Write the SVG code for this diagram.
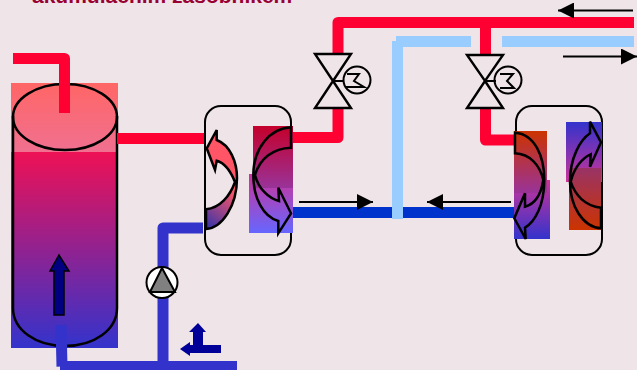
<svg xmlns="http://www.w3.org/2000/svg" width="637" height="370" viewBox="0 0 637 370">
<defs>
<style>
.o{fill:none;stroke:#000;stroke-width:2}
.c{fill:none;stroke:#000;stroke-width:2.5}
.h{fill:none;stroke:#ff0033;stroke-width:11;stroke-linejoin:round}
.p{fill:none;stroke:#3333cc;stroke-width:11}
.a{stroke:#000;stroke-width:2;fill:none}
.v{fill:none;stroke:#000;stroke-width:2.4;stroke-linejoin:miter}
text{font-family:"Liberation Sans",Arial,sans-serif;font-weight:bold;font-size:21px;fill:#990033}
</style>
<linearGradient id="tank" x1="0" y1="0" x2="0" y2="1"><stop offset="0" stop-color="#ee1155"/><stop offset="1" stop-color="#3333cc"/></linearGradient>
<linearGradient id="tanktop" x1="0" y1="0" x2="0" y2="1"><stop offset="0" stop-color="#ff6666"/><stop offset="1" stop-color="#f07090"/></linearGradient>
<linearGradient id="tv" x1="0" y1="0" x2="0" y2="1"><stop offset="0" stop-color="#c4002b"/><stop offset="1" stop-color="#993399"/></linearGradient>
<linearGradient id="bv" x1="0" y1="0" x2="0" y2="1"><stop offset="0" stop-color="#cc3399"/><stop offset="1" stop-color="#6666ff"/></linearGradient>
<linearGradient id="r1" x1="0" y1="0" x2="0" y2="1"><stop offset="0" stop-color="#cc3300"/><stop offset="1" stop-color="#993399"/></linearGradient>
<linearGradient id="r2" x1="0" y1="0" x2="0" y2="1"><stop offset="0" stop-color="#cc3399"/><stop offset="1" stop-color="#3333cc"/></linearGradient>
<linearGradient id="r3" x1="0" y1="1" x2="0" y2="0"><stop offset="0" stop-color="#cc3399"/><stop offset="1" stop-color="#3333cc"/></linearGradient>
<linearGradient id="r4" x1="0" y1="1" x2="0" y2="0"><stop offset="0" stop-color="#cc3300"/><stop offset="1" stop-color="#993366"/></linearGradient>
<linearGradient id="arr" gradientUnits="userSpaceOnUse" x1="204" y1="226" x2="232" y2="190"><stop offset="0" stop-color="#3333aa"/><stop offset="1" stop-color="#ff5566"/></linearGradient>
<marker id="m" viewBox="0 0 16 16" refX="16" refY="8" markerWidth="16" markerHeight="16" markerUnits="userSpaceOnUse" orient="auto"><path d="M0 0L16 8L0 16Z" fill="#000"/></marker>
</defs>
<rect width="637" height="370" fill="#efe4e8"/>
<text x="32" y="3">akumulačním zásobníkem</text>
<g id="tank-node">
<rect x="11" y="83" width="107" height="69" fill="url(#tanktop)"/>
<rect x="11" y="152" width="107" height="196" fill="url(#tank)"/>
<path class="c" d="M13 116V308C13 330 36 346 65 346S117 330 117 308V116"/>
<ellipse class="c" cx="65" cy="117" rx="52" ry="33"/>
<path d="M54 315V271H50L59 255L69 271H64V315Z" fill="#000080" stroke="#000" stroke-width="1.5"/>
</g>
<g id="connectors">
<path class="h" d="M13 58.5H64.5V113"/>
<path class="h" d="M117 138.5H205"/>
<path class="p" d="M61 325L62 366.5"/>
<path class="p" d="M60 366.5H237"/>
<path class="p" d="M163 366V228H203" stroke-linejoin="round"/>
<path class="h" d="M293 137.5H338V108"/>
<path class="h" d="M338 54V22.5H634"/>
<path class="h" d="M485.5 22.5V55"/>
<path class="h" d="M485.5 108V140H514"/>
<path fill="none" stroke="#0033cc" stroke-width="11" d="M293 212.5H515"/>
<path fill="#99ccff" d="M392 41H396V36H471V47H403V219H392Z"/>
<rect x="502" y="36" width="132" height="11" fill="#99ccff"/>
<path class="a" marker-end="url(#m)" d="M299 202H373"/>
<path class="a" marker-end="url(#m)" d="M511 202H427"/>
<path class="a" marker-end="url(#m)" d="M633 10.5H558"/>
<path class="a" marker-end="url(#m)" d="M563 56.5H637"/>
<path d="M193 332H189L198 323L206 332H203V345H221V353H190V356L180 349L190 342V345H193Z" fill="#000099"/>
</g>
<g id="valve-1">
<path class="v" d="M315 54H351L333 81ZM333 81L351 108H315Z"/>
<path class="o" d="M333 81H344"/>
<circle cx="357" cy="80" r="13.5" fill="none" stroke="#000" stroke-width="2"/>
<path class="o" d="M347 74H359L354 81L364 87H345" stroke-width="1.5"/>
</g>
<g id="valve-2">
<path class="v" d="M467 55H503L485 81ZM485 81L503 108H467Z"/>
<path class="o" d="M485 81H496"/>
<circle cx="508" cy="80" r="13.5" fill="none" stroke="#000" stroke-width="2"/>
<path class="o" d="M500 74H513L507 81L514 88H500" stroke-width="1.5"/>
</g>
<g id="pump">
<circle cx="162" cy="282.5" r="15.5" fill="#fff" stroke="#000" stroke-width="2"/>
<path d="M162 268L175 292H150Z" fill="#808080" stroke="#000" stroke-width="2"/>
</g>
<g id="exchanger-1">
<rect x="205" y="106" width="86" height="149" rx="16" fill="none" stroke="#000" stroke-width="2"/>
<rect x="249" y="174" width="44" height="59" fill="url(#bv)"/>
<rect x="253" y="126" width="40" height="62" fill="url(#tv)"/>
<path d="M206 209.3C220 208 230 196 235 182C231 172 225 163 216.7 160.7L215 170L206.7 148.3L216.7 130L216.7 140C230 145 237 162 237 178C237 206 222 228 206 229Z" fill="url(#arr)" stroke="#000" stroke-width="2.5"/>
<path class="c" d="M291 127.3C270 128.3 253.3 148.3 253.3 175C253.3 198.3 263.3 216.7 278.3 221L278.3 233.3L291 213.3L278.3 187.7L279 201C268.3 198.3 258.3 188.3 255 175C260 158.3 273.3 148.3 291 147.7Z"/>
</g>
<g id="exchanger-2">
<rect x="516" y="106" width="86" height="149" rx="16" fill="none" stroke="#000" stroke-width="2"/>
<rect x="514" y="180" width="36" height="59" fill="url(#r2)"/>
<rect x="514" y="131" width="33" height="62" fill="url(#r1)"/>
<rect x="566" y="122" width="36" height="60" fill="url(#r3)"/>
<rect x="569" y="168" width="32" height="62" fill="url(#r4)"/>
<path class="c" d="M515 132.7C535 134 544.3 157 544.3 180C544.3 205 535 222 525 227.7L525.7 239L514.3 218.3L525 193.3L525 206.7C535 204 541 195 543.3 180C540 165 530 154 515 153.3Z"/>
<path class="c" d="M601 207.7L601 228.3C582 227 570 205 570 181.7C570 158 580 140 590 133.3L590 121.7L601 142.3L590 166.7L590.7 154.3C582 158 574 168 570.7 181.7C575 195 585 206 601 207.7Z"/>
</g>
</svg>
